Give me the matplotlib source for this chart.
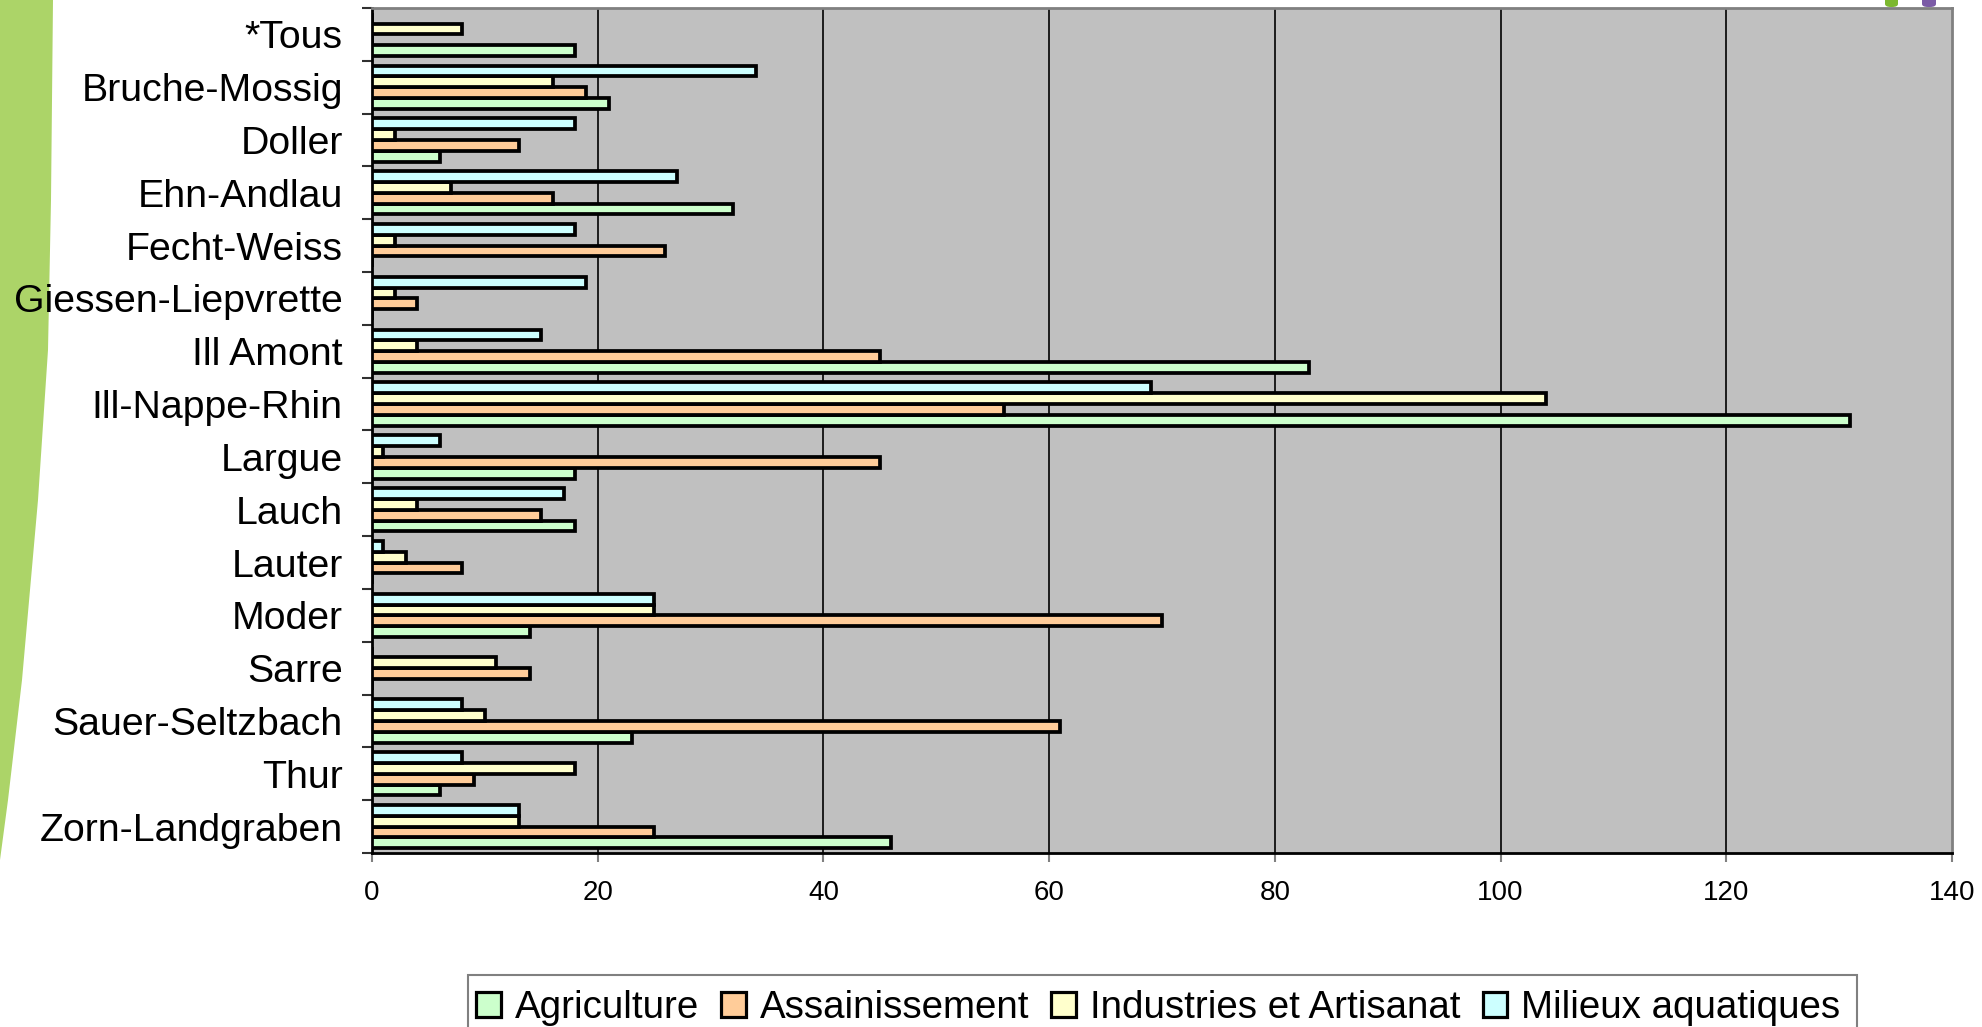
import matplotlib
matplotlib.use("Agg")
import matplotlib.pyplot as plt
import numpy as np
from matplotlib.patches import Polygon, Rectangle, FancyBboxPatch

plt.rcParams["font.family"] = ["Liberation Sans", "DejaVu Sans"]

categories = ["*Tous", "Bruche-Mossig", "Doller", "Ehn-Andlau", "Fecht-Weiss",
              "Giessen-Liepvrette", "Ill Amont", "Ill-Nappe-Rhin", "Largue", "Lauch",
              "Lauter", "Moder", "Sarre", "Sauer-Seltzbach", "Thur", "Zorn-Landgraben"]

agriculture = [18, 21, 6, 32, 0, 0, 83, 131, 18, 18, 0, 14, 0, 23, 6, 46]
assainissement = [0, 19, 13, 16, 26, 4, 45, 56, 45, 15, 8, 70, 14, 61, 9, 25]
industries = [8, 16, 2, 7, 2, 2, 4, 104, 1, 4, 3, 25, 11, 10, 18, 13]
milieux = [0, 34, 18, 27, 18, 19, 15, 69, 6, 17, 1, 25, 0, 8, 8, 13]

series_names = ["Agriculture", "Assainissement", "Industries et Artisanat", "Milieux aquatiques"]
x_ticks = [0, 20, 40, 60, 80, 100, 120, 140]

W, H = 1982, 1027
fig = plt.figure(figsize=(W / 100, H / 100), dpi=100)
ax = fig.add_axes([372 / W, 1 - 853 / H, (1952 - 372) / W, (853 - 8) / H])
ax.set_facecolor("#C0C0C0")

# decoration: green wedge on the left, small tabs top right
wedge_px = [(0, 0), (53, 0), (51, 200), (48, 350), (38, 500), (22, 680), (8, 800), (0, 860)]
fig.patches.append(Polygon([(x / W, 1 - y / H) for x, y in wedge_px], closed=True,
                           transform=fig.transFigure, facecolor="#ACD468", edgecolor="none",
                           zorder=-1))
fig.patches.append(FancyBboxPatch((1885 / W, 1 - 7 / H), 13 / W, 12 / H, boxstyle="round,pad=0,rounding_size=0.003",
                                  transform=fig.transFigure, facecolor="#7CB82F", edgecolor="none"))
fig.patches.append(FancyBboxPatch((1922 / W, 1 - 7 / H), 14 / W, 12 / H, boxstyle="round,pad=0,rounding_size=0.003",
                                  transform=fig.transFigure, facecolor="#7B5BA6", edgecolor="none"))

y = np.arange(len(categories))
h = 0.205
colors = ["#CCFFCC", "#FFCC99", "#FFFFCC", "#CCFFFF"]
data = [agriculture, assainissement, industries, milieux]
offsets = [1.5 * h, 0.5 * h, -0.5 * h, -1.5 * h]

for vals, col, off, name in zip(data, colors, offsets, series_names):
    ax.barh(y + off, vals, height=h, color=col, edgecolor="black", linewidth=2.7,
            label=name, zorder=3)

ax.set_xlim(0, 140)
ax.set_ylim(len(categories) - 0.5, -0.5)
ax.set_xticks(x_ticks)
ax.set_xticklabels([str(t) for t in x_ticks], fontsize=20)
for t in x_ticks[1:-1]:
    ax.axvline(t, color="black", linewidth=1.2, zorder=1)

ax.set_yticks(np.arange(-0.5, len(categories)))
ax.set_yticklabels([])
ax.set_yticks(y, minor=True)
ax.set_yticklabels(categories, minor=True, fontsize=28.3)
ax.tick_params(axis="y", which="major", direction="out", length=7, width=1.5, color="#303030")
ax.tick_params(axis="y", which="minor", length=0, pad=21)
ax.tick_params(axis="x", direction="out", length=6.5, width=1.5, color="#808080", pad=13)

ax.spines["left"].set_color("black")
ax.spines["bottom"].set_color("black")
ax.spines["top"].set_color("#808080")
ax.spines["right"].set_color("#808080")
for s in ax.spines.values():
    s.set_linewidth(2)

# legend frame (runs off the bottom of the picture)
fig.patches.append(Rectangle((468 / W, -0.05), (1857 - 468) / W, 0.05 + 1 - 975 / H,
                             transform=fig.transFigure, facecolor="white",
                             edgecolor="#808080", linewidth=1.5))
leg = fig.legend(loc="center left", bbox_to_anchor=(476 / W, 1 - 1008 / H), ncol=4,
                 frameon=False, fontsize=27.7, handlelength=0.64, handleheight=0.64,
                 handletextpad=0.36, columnspacing=0.58, borderaxespad=0, borderpad=0)
for hdl in leg.legend_handles:
    hdl.set_linewidth(2.3)

fig.savefig("out.png", dpi=100)
